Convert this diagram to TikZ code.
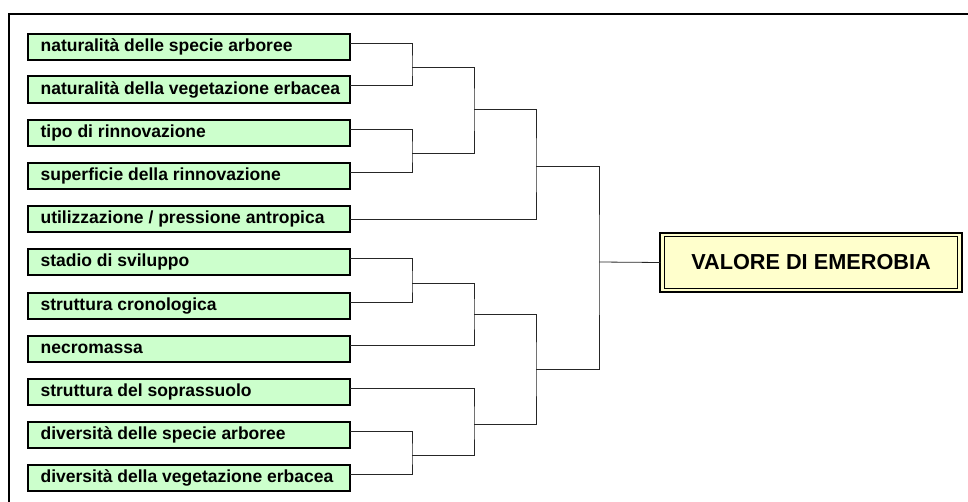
\documentclass[tikz,border=0pt]{standalone}
\usepackage{fontspec}
\setsansfont{Liberation Sans}
\usetikzlibrary{calc}

\definecolor{boxgreen}{HTML}{CCFFCC}
\definecolor{boxyellow}{HTML}{FFFFCC}

\begin{document}
\begin{tikzpicture}[x=1pt,y=-1pt]
		\tikzstyle{factor}=[rectangle,draw,line width=2.2pt,fill=boxgreen,
                  anchor=west,outer sep=0pt,inner xsep=12.5pt,inner ysep=0pt,
                  minimum height=26.5pt,
                  font=\sffamily\bfseries\fontsize{17.5}{20}\selectfont]
		\tikzstyle{result}=[rectangle,draw,line width=2.4pt,fill=boxyellow,
                  outer sep=0pt,minimum width=301.5pt,minimum height=59.5pt,
                  font=\sffamily\bfseries\fontsize{21.7}{24}\selectfont]
		\tikzstyle{link}=[line width=0.8pt,black!85]
		\tikzstyle{frame}=[line width=2.5pt]

		\useasboundingbox (0,0) rectangle (968,502);
		\draw[frame] (968,14) -| (9,502);

     	\foreach \name/\y/\txt in {b1/47/naturalità delle specie arboree,
                b2/89.5/naturalità della vegetazione erbacea,
                b3/133/tipo di rinnovazione,
                b4/176/superficie della rinnovazione,
                b5/219/{utilizzazione / pressione antropica},
                b6/262/stadio di sviluppo,
                b7/306/struttura cronologica,
                b8/349/necromassa,
                b9/392/struttura del soprassuolo,
                b10/435/diversità delle specie arboree,
                b11/478/diversità della vegetazione erbacea}
       		\node[factor] (\name) at (28.1,\y) {\makebox[297pt][l]{\txt}};

		\node[result] (tgt) at (811,262.5) {VALORE DI EMEROBIA};
		\draw[line width=0.9pt] ([shift={(4pt,-4pt)}]tgt.north west)
			rectangle ([shift={(-4pt,4pt)}]tgt.south east);

        % junctions
     	\foreach \name/\x/\y in {a1/412/67, a2/412/153, a3/412/283, a4/412/455,
                c1/474/109, c2/474/314, c3/474/424,
                d1/536/166, d2/536/369, e1/599/262}
       		\coordinate (\name) at (\x,\y);

        % edges
        \foreach \up/\jn/\dn in {b1/a1/b2, b3/a2/b4, b6/a3/b7, b10/a4/b11}
            \draw[link] ([yshift=4pt]\up.east) -| (\jn) |- ([yshift=4pt]\dn.east);

        \draw[link] (a1) -| (c1) |- (a2);
        \draw[link] (a3) -| (c2) |- ([yshift=4pt]b8.east);
        \draw[link] ([yshift=4pt]b9.east) -| (c3) |- (a4);
        \draw[link] (c1) -| (d1) |- (b5.east);
        \draw[link] (c2) -| (d2) |- (c3);
        \draw[link] (d1) -| (e1) |- (d2);
        \draw[link] (e1) -- (tgt.west);

	\end{tikzpicture}
\end{document}
